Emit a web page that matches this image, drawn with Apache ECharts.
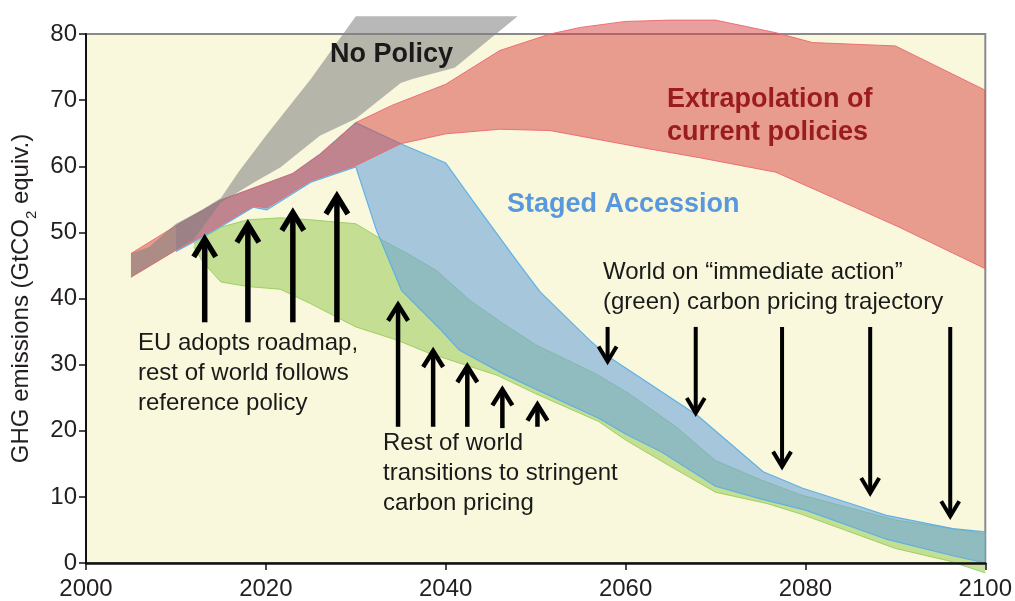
<!DOCTYPE html>
<html>
<head>
<meta charset="utf-8">
<script src="https://cdn.jsdelivr.net/npm/echarts@6/dist/echarts.min.js"></script>
<style>
html,body{margin:0;padding:0;background:#ffffff;}
#chart{width:1015px;height:601px;}
</style>
</head>
<body>
<div id="chart"></div>
<script>
// ---- axis ticks ----
const yearTicks = [2000, 2020, 2040, 2060, 2080, 2100];
const valueTicks = [0, 10, 20, 30, 40, 50, 60, 70, 80];

// ---- bands: [year, GtCO2e] ----
const noPolicyUpper = [[2005,46.8],[2007,47.8],[2010,51.3],[2013,53.5],[2015,55.2],[2017,59.2],[2020,64.6],[2025,73.2],[2030,82.7],[2048,82.7]];
const noPolicyLower = [[2005,43.2],[2010,47.3],[2012,49.0],[2015,54.5],[2019,57.8],[2021.6,59.8],[2026,64.6],[2030,67.2],[2035,72.6],[2036.3,73.2],[2041,74.9],[2048,82.7]];

const currentUpper = [[2005,46.8],[2010,51.0],[2015,54.9],[2020,57.4],[2023,58.9],[2026,61.8],[2030,66.6],[2034,69.2],[2040,72.4],[2046,77.5],[2051.6,80.0],[2055,81.0],[2060,81.9],[2065,82.1],[2070,82.1],[2076.7,80.2],[2080.8,78.7],[2090,78.2],[2100,71.5]];
const currentLower = [[2005,43.2],[2010,47.3],[2013,49.5],[2016,51.9],[2018.6,54.0],[2020.1,53.7],[2025,57.8],[2030,60.1],[2035,63.4],[2040,64.9],[2046,65.6],[2051.6,65.4],[2061.9,62.8],[2068.2,61.3],[2076.7,59.1],[2083,55.3],[2090.4,50.8],[2100,44.5]];

const stagedUpper = [[2010,51.0],[2015,54.9],[2020,57.4],[2023,58.9],[2026,61.8],[2030,66.6],[2035,63.4],[2040,60.5],[2043,54.8],[2047.9,45.7],[2050.5,41.0],[2056,33.7],[2058.2,31.1],[2063,26.8],[2068,22.3],[2071.6,18.1],[2075.3,13.8],[2079.7,11.3],[2085,9.0],[2089,7.2],[2096.4,5.2],[2100,4.7]];
const stagedLower = [[2010,47.1],[2013,49.3],[2016,51.7],[2018.6,53.8],[2020.1,53.4],[2025,57.6],[2030,59.9],[2032.3,50.3],[2035.1,41.2],[2039.5,35.2],[2041.5,32.2],[2046.4,28.6],[2050,26.3],[2057,21.9],[2060,19.5],[2064,16.8],[2070,11.6],[2075,9.7],[2080,8.0],[2089,3.6],[2096.4,1.1],[2100,0.0]];

const immediateUpper = [[2012,48.3],[2015,50.8],[2018,51.9],[2021.6,52.2],[2025,51.9],[2030,51.3],[2031.6,50.0],[2033,48.8],[2036,46.6],[2039,44.2],[2042.7,39.7],[2046.4,36.2],[2050,33.0],[2056.7,28.6],[2060.4,25.6],[2065.6,20.6],[2070,15.5],[2075,12.6],[2079.5,10.3],[2090,6.5],[2100,4.4]];
const immediateLower = [[2012,47.8],[2013,45.5],[2015,42.5],[2018,41.8],[2021.6,41.4],[2025,39.2],[2030,35.7],[2034.6,33.7],[2038.2,31.7],[2045.7,28.4],[2050,25.6],[2057,21.4],[2060,18.6],[2065,14.6],[2070,10.7],[2075.7,9.0],[2079.5,7.4],[2090,2.2],[2096,0.3],[2100,-1.5]];

// ---- arrows: [year, tail value, tip value] ----
const euArrows = [[2013.2,36.4,49.8],[2018.0,36.4,52.0],[2023.0,36.4,53.8],[2027.9,36.4,56.3]];
const rowArrows = [[2034.7,20.6,39.7],[2038.6,20.6,32.7],[2042.4,20.6,30.4],[2046.3,20.4,26.9],[2050.2,20.6,24.6]];
const worldArrows = [[2058.0,35.7,29.9],[2067.8,35.7,22.1],[2077.4,35.7,14.0],[2087.2,35.7,10.0],[2096.1,35.7,6.5]];

const FONT = '"Liberation Sans", Arial, Helvetica, sans-serif';

function bandSeries(name, upper, lower, fill, stroke, strokeWidth, z) {
  const poly = upper.concat(lower.slice().reverse());
  return {
    name: name,
    type: 'custom',
    coordinateSystem: 'cartesian2d',
    clip: false,
    silent: true,
    z: z,
    data: poly,
    encode: { x: 0, y: 1 },
    renderItem: function (params, api) {
      if (params.dataIndex !== 0) return null;
      const P = poly.map(p => api.coord(p));
      const U = upper.map(p => api.coord(p));
      const L = lower.map(p => api.coord(p));
      const children = [{ type: 'polygon', shape: { points: P }, style: { fill: fill } }];
      if (stroke) {
        children.push({ type: 'polyline', shape: { points: U }, style: { stroke: stroke, lineWidth: strokeWidth, fill: null } });
        children.push({ type: 'polyline', shape: { points: L }, style: { stroke: stroke, lineWidth: strokeWidth, fill: null } });
      }
      return { type: 'group', children: children };
    }
  };
}

function arrowSeries(name, arrows, width, dx, dy) {
  return {
    name: name,
    type: 'custom',
    coordinateSystem: 'cartesian2d',
    clip: false,
    silent: true,
    z: 10,
    data: arrows,
    encode: { x: 0, y: [1, 2] },
    renderItem: function (params, api) {
      const x = api.value(0);
      const tail = api.coord([x, api.value(1)]);
      const tip = api.coord([x, api.value(2)]);
      const dir = tip[1] < tail[1] ? -1 : 1;
      const inset = width * 0.95;
      const apex = [tip[0], tip[1] - dir * inset];
      return {
        type: 'group',
        children: [
          { type: 'line', shape: { x1: tail[0], y1: tail[1], x2: apex[0], y2: apex[1] },
            style: { stroke: '#000', lineWidth: width, lineCap: 'butt' } },
          { type: 'polyline', shape: { points: [[apex[0] - dx, apex[1] - dir * dy], apex, [apex[0] + dx, apex[1] - dir * dy]] },
            style: { stroke: '#000', lineWidth: width, lineJoin: 'miter', miterLimit: 10, fill: null } }
        ]
      };
    }
  };
}

const chart = echarts.init(document.getElementById('chart'), null, { renderer: 'canvas' });

const option = {
  animation: false,
  backgroundColor: '#ffffff',
  grid: {
    left: 86, right: 29, top: 34, bottom: 38,
    show: true, backgroundColor: '#f9f8dc', borderColor: '#8a8a8a', borderWidth: 2
  },
  xAxis: {
    type: 'value',
    min: yearTicks[0], max: yearTicks[yearTicks.length - 1], interval: yearTicks[1] - yearTicks[0],
    z: 5,
    axisLine: { show: true, onZero: false, lineStyle: { color: '#111', width: 2.5 } },
    axisTick: { show: true, length: 7, lineStyle: { color: '#111', width: 1.5 } },
    axisLabel: { fontSize: 24, fontFamily: FONT, color: '#231f20', margin: 14, formatter: v => String(v) },
    splitLine: { show: false }
  },
  yAxis: {
    type: 'value',
    min: valueTicks[0], max: valueTicks[valueTicks.length - 1], interval: valueTicks[1] - valueTicks[0],
    z: 5,
    name: 'GHG emissions (GtCO{sub|2} equiv.)',
    nameLocation: 'middle',
    nameGap: 47,
    nameTextStyle: {
      fontSize: 24, fontFamily: FONT, color: '#231f20',
      rich: { sub: { fontSize: 15, fontFamily: FONT, color: '#231f20', verticalAlign: 'bottom', padding: [0, 0, -6, 0] } }
    },
    axisLine: { show: true, onZero: false, lineStyle: { color: '#111', width: 2 } },
    axisTick: { show: true, length: 7, lineStyle: { color: '#111', width: 1.5 } },
    axisLabel: { fontSize: 24, fontFamily: FONT, color: '#231f20', margin: 9 },
    splitLine: { show: false }
  },
  series: [
    bandSeries('Immediate action', immediateUpper, immediateLower, 'rgba(160,205,100,0.6)', 'rgba(150,205,90,0.9)', 1, 2),
    bandSeries('Staged Accession', stagedUpper, stagedLower, 'rgba(110,165,220,0.6)', 'rgba(90,175,230,0.95)', 1.2, 3),
    bandSeries('Extrapolation of current policies', currentUpper, currentLower, 'rgba(215,70,70,0.52)', 'rgba(240,100,110,0.9)', 1, 4),
    bandSeries('No Policy', noPolicyUpper, noPolicyLower, 'rgba(128,128,128,0.56)', null, 0, 5),
    arrowSeries('EU arrows', euArrows, 5.5, 11, 18),
    arrowSeries('RoW arrows', rowArrows, 4.5, 10, 16),
    arrowSeries('World arrows', worldArrows, 4, 9, 15)
  ],
  graphic: [
    { type: 'text', x: 330, y: 39, z: 100, silent: true,
      style: { text: 'No Policy', font: 'bold 27px ' + FONT, fill: '#1a1a1a', lineHeight: 32 } },
    { type: 'text', x: 667, y: 83.5, z: 100, silent: true,
      style: { text: 'Extrapolation of\ncurrent policies', font: 'bold 27px ' + FONT, fill: '#9b1c20', lineHeight: 33 } },
    { type: 'text', x: 507, y: 189, z: 100, silent: true,
      style: { text: 'Staged Accession', font: 'bold 27px ' + FONT, fill: '#5a98de', lineHeight: 32 } },
    { type: 'text', x: 603, y: 257, z: 100, silent: true,
      style: { text: 'World on \u201cimmediate action\u201d\n(green) carbon pricing trajectory', font: '24px ' + FONT, fill: '#1a1a1a', lineHeight: 30 } },
    { type: 'text', x: 138, y: 328, z: 100, silent: true,
      style: { text: 'EU adopts roadmap,\nrest of world follows\nreference policy', font: '24px ' + FONT, fill: '#1a1a1a', lineHeight: 30 } },
    { type: 'text', x: 383, y: 428, z: 100, silent: true,
      style: { text: 'Rest of world\ntransitions to stringent\ncarbon pricing', font: '24px ' + FONT, fill: '#1a1a1a', lineHeight: 30 } }
  ]
};
chart.setOption(option);
</script>
</body>
</html>
